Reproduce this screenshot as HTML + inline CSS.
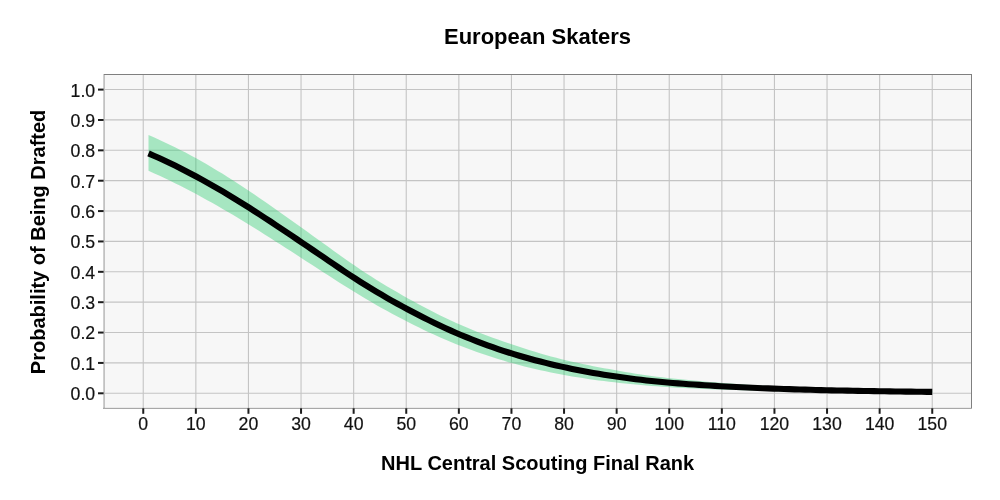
<!DOCTYPE html>
<html><head><meta charset="utf-8"><title>European Skaters</title>
<style>
html,body{margin:0;padding:0;background:#fff;}
body{width:1000px;height:500px;overflow:hidden;font-family:"Liberation Sans",sans-serif;}
svg{display:block;will-change:transform;}
svg text{font-family:"Liberation Sans",sans-serif;}
</style></head><body>
<svg width="1000" height="500" viewBox="0 0 1000 500">
<rect x="0" y="0" width="1000" height="500" fill="#ffffff"/>
<rect x="104.5" y="75" width="866.5" height="333" fill="#f7f7f7"/>
<g stroke="#c4c4c4" stroke-width="1.1" fill="none">
<line x1="104.5" x2="971" y1="393.20" y2="393.20"/>
<line x1="104.5" x2="971" y1="362.83" y2="362.83"/>
<line x1="104.5" x2="971" y1="332.46" y2="332.46"/>
<line x1="104.5" x2="971" y1="302.09" y2="302.09"/>
<line x1="104.5" x2="971" y1="271.72" y2="271.72"/>
<line x1="104.5" x2="971" y1="241.35" y2="241.35"/>
<line x1="104.5" x2="971" y1="210.98" y2="210.98"/>
<line x1="104.5" x2="971" y1="180.61" y2="180.61"/>
<line x1="104.5" x2="971" y1="150.24" y2="150.24"/>
<line x1="104.5" x2="971" y1="119.87" y2="119.87"/>
<line x1="104.5" x2="971" y1="89.50" y2="89.50"/>
<line x1="143.25" x2="143.25" y1="75" y2="408"/>
<line x1="195.85" x2="195.85" y1="75" y2="408"/>
<line x1="248.45" x2="248.45" y1="75" y2="408"/>
<line x1="301.05" x2="301.05" y1="75" y2="408"/>
<line x1="353.65" x2="353.65" y1="75" y2="408"/>
<line x1="406.25" x2="406.25" y1="75" y2="408"/>
<line x1="458.85" x2="458.85" y1="75" y2="408"/>
<line x1="511.45" x2="511.45" y1="75" y2="408"/>
<line x1="564.05" x2="564.05" y1="75" y2="408"/>
<line x1="616.65" x2="616.65" y1="75" y2="408"/>
<line x1="669.25" x2="669.25" y1="75" y2="408"/>
<line x1="721.85" x2="721.85" y1="75" y2="408"/>
<line x1="774.45" x2="774.45" y1="75" y2="408"/>
<line x1="827.05" x2="827.05" y1="75" y2="408"/>
<line x1="879.65" x2="879.65" y1="75" y2="408"/>
<line x1="932.25" x2="932.25" y1="75" y2="408"/>
</g>
<polygon points="148.51,135.08 153.81,137.35 159.10,139.70 164.40,142.13 169.69,144.63 174.99,147.22 180.28,149.88 185.58,152.62 190.87,155.44 196.17,158.33 201.47,161.30 206.76,164.34 212.06,167.45 217.35,170.63 222.65,173.87 227.94,177.17 233.24,180.54 238.53,183.96 243.83,187.43 249.13,190.96 254.42,194.52 259.72,198.13 265.01,201.78 270.31,205.46 275.60,209.17 280.90,212.90 286.19,216.66 291.49,220.43 296.79,224.22 302.08,228.02 307.38,231.82 312.67,235.64 317.97,239.46 323.26,243.28 328.56,247.10 333.85,250.90 339.15,254.69 344.44,258.44 349.74,262.15 355.04,265.80 360.33,269.39 365.63,272.89 370.92,276.32 376.22,279.67 381.51,282.94 386.81,286.15 392.10,289.29 397.40,292.37 402.70,295.40 407.99,298.39 413.29,301.32 418.58,304.20 423.88,307.03 429.17,309.81 434.47,312.52 439.76,315.16 445.06,317.74 450.36,320.25 455.65,322.68 460.95,325.03 466.24,327.31 471.54,329.52 476.83,331.65 482.13,333.71 487.42,335.72 492.72,337.67 498.02,339.57 503.31,341.44 508.61,343.27 513.90,345.07 519.20,346.83 524.49,348.55 529.79,350.23 535.08,351.86 540.38,353.43 545.68,354.95 550.97,356.40 556.27,357.80 561.56,359.14 566.86,360.43 572.15,361.66 577.45,362.85 582.74,363.99 588.04,365.09 593.34,366.14 598.63,367.16 603.93,368.14 609.22,369.12 614.52,370.08 619.81,371.01 625.11,371.92 630.40,372.80 635.70,373.65 641.00,374.48 646.29,375.27 651.59,376.00 656.88,376.68 662.18,377.32 667.47,377.95 672.77,378.52 678.06,379.07 683.36,379.59 688.66,380.09 693.95,380.58 699.25,381.04 704.54,381.49 709.84,381.93 715.13,382.35 720.43,382.76 725.72,383.18 731.02,383.58 736.31,383.98 741.61,384.37 746.91,384.75 752.20,385.12 757.50,385.41 762.79,385.68 768.09,385.94 773.38,386.18 778.68,386.42 783.97,386.66 789.27,386.88 794.57,387.10 799.86,387.31 805.16,387.51 810.45,387.71 815.75,387.90 821.04,388.08 826.34,388.26 831.63,388.43 836.93,388.60 842.23,388.76 847.52,388.92 852.82,389.07 858.11,389.21 863.41,389.36 868.70,389.50 874.00,389.63 879.29,389.76 884.59,389.89 889.89,390.01 895.18,390.13 900.48,390.25 905.77,390.37 911.07,390.48 916.36,390.59 921.66,390.69 926.95,390.79 932.25,390.90 932.25,392.90 926.95,392.89 921.66,392.88 916.36,392.87 911.07,392.86 905.77,392.84 900.48,392.82 895.18,392.80 889.89,392.77 884.59,392.74 879.29,392.71 874.00,392.67 868.70,392.63 863.41,392.59 858.11,392.54 852.82,392.49 847.52,392.43 842.23,392.37 836.93,392.30 831.63,392.23 826.34,392.15 821.04,392.07 815.75,391.98 810.45,391.89 805.16,391.78 799.86,391.68 794.57,391.56 789.27,391.44 783.97,391.31 778.68,391.17 773.38,391.03 768.09,390.87 762.79,390.71 757.50,390.54 752.20,390.38 746.91,390.28 741.61,390.17 736.31,390.05 731.02,389.92 725.72,389.78 720.43,389.62 715.13,389.43 709.84,389.23 704.54,389.02 699.25,388.79 693.95,388.54 688.66,388.28 683.36,388.00 678.06,387.70 672.77,387.38 667.47,387.04 662.18,386.70 656.88,386.33 651.59,385.94 646.29,385.52 641.00,385.06 635.70,384.58 630.40,384.07 625.11,383.53 619.81,382.96 614.52,382.36 609.22,381.75 603.93,381.10 598.63,380.40 593.34,379.68 588.04,378.91 582.74,378.11 577.45,377.27 572.15,376.39 566.86,375.47 561.56,374.50 556.27,373.49 550.97,372.44 545.68,371.33 540.38,370.18 535.08,368.97 529.79,367.71 524.49,366.40 519.20,365.03 513.90,363.61 508.61,362.13 503.31,360.59 498.02,358.99 492.72,357.33 487.42,355.61 482.13,353.82 476.83,351.97 471.54,350.05 466.24,348.07 460.95,346.03 455.65,343.92 450.36,341.74 445.06,339.49 439.76,337.18 434.47,334.81 429.17,332.38 423.88,329.88 418.58,327.32 413.29,324.71 407.99,322.05 402.70,319.33 397.40,316.55 392.10,313.73 386.81,310.85 381.51,307.91 376.22,304.92 370.92,301.87 365.63,298.75 360.33,295.58 355.04,292.35 349.74,289.07 344.44,285.75 339.15,282.39 333.85,279.01 328.56,275.60 323.26,272.18 317.97,268.76 312.67,265.32 307.38,261.89 302.08,258.45 296.79,255.02 291.49,251.60 286.19,248.18 280.90,244.77 275.60,241.38 270.31,238.01 265.01,234.65 259.72,231.32 254.42,228.01 249.13,224.74 243.83,221.49 238.53,218.28 233.24,215.11 227.94,211.98 222.65,208.89 217.35,205.84 212.06,202.83 206.76,199.88 201.47,196.97 196.17,194.11 190.87,191.31 185.58,188.55 180.28,185.85 174.99,183.21 169.69,180.62 164.40,178.08 159.10,175.60 153.81,173.17 148.51,170.81" fill="#2ecc71" fill-opacity="0.4"/>
<polyline points="148.51,153.40 153.81,155.71 159.10,158.09 164.40,160.52 169.69,163.03 174.99,165.59 180.28,168.23 185.58,170.92 190.87,173.67 196.17,176.49 201.47,179.37 206.76,182.31 212.06,185.30 217.35,188.35 222.65,191.45 227.94,194.61 233.24,197.82 238.53,201.07 243.83,204.37 249.13,207.70 254.42,211.08 259.72,214.50 265.01,217.94 270.31,221.42 275.60,224.92 280.90,228.44 286.19,231.98 291.49,235.54 296.79,239.11 302.08,242.69 307.38,246.29 312.67,249.89 317.97,253.49 323.26,257.10 328.56,260.71 333.85,264.30 339.15,267.88 344.44,271.44 349.74,274.95 355.04,278.41 360.33,281.81 365.63,285.15 370.92,288.41 376.22,291.60 381.51,294.73 386.81,297.78 392.10,300.78 397.40,303.73 402.70,306.63 407.99,309.48 413.29,312.28 418.58,315.03 423.88,317.73 429.17,320.38 434.47,322.96 439.76,325.49 445.06,327.95 450.36,330.35 455.65,332.68 460.95,334.95 466.24,337.15 471.54,339.29 476.83,341.37 482.13,343.38 487.42,345.32 492.72,347.21 498.02,349.03 503.31,350.80 508.61,352.50 513.90,354.15 519.20,355.74 524.49,357.28 529.79,358.76 535.08,360.19 540.38,361.57 545.68,362.91 550.97,364.19 556.27,365.43 561.56,366.63 566.86,367.78 572.15,368.89 577.45,369.96 582.74,370.98 588.04,371.97 593.34,372.92 598.63,373.83 603.93,374.71 609.22,375.54 614.52,376.34 619.81,377.10 625.11,377.83 630.40,378.53 635.70,379.18 641.00,379.81 646.29,380.41 651.59,380.97 656.88,381.51 662.18,382.01 667.47,382.49 672.77,382.95 678.06,383.38 683.36,383.79 688.66,384.19 693.95,384.56 699.25,384.91 704.54,385.25 709.84,385.58 715.13,385.89 720.43,386.19 725.72,386.48 731.02,386.75 736.31,387.02 741.61,387.27 746.91,387.52 752.20,387.75 757.50,387.98 762.79,388.20 768.09,388.40 773.38,388.61 778.68,388.80 783.97,388.98 789.27,389.16 794.57,389.33 799.86,389.49 805.16,389.65 810.45,389.80 815.75,389.94 821.04,390.08 826.34,390.21 831.63,390.33 836.93,390.45 842.23,390.56 847.52,390.67 852.82,390.78 858.11,390.88 863.41,390.97 868.70,391.06 874.00,391.15 879.29,391.24 884.59,391.32 889.89,391.39 895.18,391.47 900.48,391.54 905.77,391.60 911.07,391.67 916.36,391.73 921.66,391.79 926.95,391.84 932.25,391.90" fill="none" stroke="#000" stroke-width="6.1" stroke-linejoin="round"/>
<g fill="none">
<line x1="103.6" x2="971.5" y1="74.5" y2="74.5" stroke="#7f7f7f" stroke-width="1"/>
<line x1="971.5" x2="971.5" y1="74" y2="408.6" stroke="#7f7f7f" stroke-width="1"/>
<rect x="103" y="74.6" width="1" height="334.2" fill="#cfcfcf"/><rect x="104" y="75" width="1" height="333.8" fill="#c2c2c2"/>
<rect x="103" y="407" width="868" height="1" fill="#000" fill-opacity="0.05"/><rect x="103" y="408" width="868.5" height="1" fill="#a8a8a8"/>
</g>
<g stroke="#1c1c1c" stroke-width="2" fill="none">
<line x1="98" x2="103.6" y1="393.30" y2="393.30"/>
<line x1="98" x2="103.6" y1="362.93" y2="362.93"/>
<line x1="98" x2="103.6" y1="332.56" y2="332.56"/>
<line x1="98" x2="103.6" y1="302.19" y2="302.19"/>
<line x1="98" x2="103.6" y1="271.82" y2="271.82"/>
<line x1="98" x2="103.6" y1="241.45" y2="241.45"/>
<line x1="98" x2="103.6" y1="211.08" y2="211.08"/>
<line x1="98" x2="103.6" y1="180.71" y2="180.71"/>
<line x1="98" x2="103.6" y1="150.34" y2="150.34"/>
<line x1="98" x2="103.6" y1="119.97" y2="119.97"/>
<line x1="98" x2="103.6" y1="89.60" y2="89.60"/>
<line x1="143.25" x2="143.25" y1="408.3" y2="413.8"/>
<line x1="195.85" x2="195.85" y1="408.3" y2="413.8"/>
<line x1="248.45" x2="248.45" y1="408.3" y2="413.8"/>
<line x1="301.05" x2="301.05" y1="408.3" y2="413.8"/>
<line x1="353.65" x2="353.65" y1="408.3" y2="413.8"/>
<line x1="406.25" x2="406.25" y1="408.3" y2="413.8"/>
<line x1="458.85" x2="458.85" y1="408.3" y2="413.8"/>
<line x1="511.45" x2="511.45" y1="408.3" y2="413.8"/>
<line x1="564.05" x2="564.05" y1="408.3" y2="413.8"/>
<line x1="616.65" x2="616.65" y1="408.3" y2="413.8"/>
<line x1="669.25" x2="669.25" y1="408.3" y2="413.8"/>
<line x1="721.85" x2="721.85" y1="408.3" y2="413.8"/>
<line x1="774.45" x2="774.45" y1="408.3" y2="413.8"/>
<line x1="827.05" x2="827.05" y1="408.3" y2="413.8"/>
<line x1="879.65" x2="879.65" y1="408.3" y2="413.8"/>
<line x1="932.25" x2="932.25" y1="408.3" y2="413.8"/>
</g>
<g font-size="17.7" fill="#111" stroke="#111" stroke-width="0.2">
<text x="95.2" y="400.20" text-anchor="end">0.0</text>
<text x="95.2" y="369.83" text-anchor="end">0.1</text>
<text x="95.2" y="339.46" text-anchor="end">0.2</text>
<text x="95.2" y="309.09" text-anchor="end">0.3</text>
<text x="95.2" y="278.72" text-anchor="end">0.4</text>
<text x="95.2" y="248.35" text-anchor="end">0.5</text>
<text x="95.2" y="217.98" text-anchor="end">0.6</text>
<text x="95.2" y="187.61" text-anchor="end">0.7</text>
<text x="95.2" y="157.24" text-anchor="end">0.8</text>
<text x="95.2" y="126.87" text-anchor="end">0.9</text>
<text x="95.2" y="96.50" text-anchor="end">1.0</text>
<text x="143.25" y="429.9" text-anchor="middle">0</text>
<text x="195.85" y="429.9" text-anchor="middle">10</text>
<text x="248.45" y="429.9" text-anchor="middle">20</text>
<text x="301.05" y="429.9" text-anchor="middle">30</text>
<text x="353.65" y="429.9" text-anchor="middle">40</text>
<text x="406.25" y="429.9" text-anchor="middle">50</text>
<text x="458.85" y="429.9" text-anchor="middle">60</text>
<text x="511.45" y="429.9" text-anchor="middle">70</text>
<text x="564.05" y="429.9" text-anchor="middle">80</text>
<text x="616.65" y="429.9" text-anchor="middle">90</text>
<text x="669.25" y="429.9" text-anchor="middle">100</text>
<text x="721.85" y="429.9" text-anchor="middle">110</text>
<text x="774.45" y="429.9" text-anchor="middle">120</text>
<text x="827.05" y="429.9" text-anchor="middle">130</text>
<text x="879.65" y="429.9" text-anchor="middle">140</text>
<text x="932.25" y="429.9" text-anchor="middle">150</text>
</g>
<text x="537.5" y="44.0" text-anchor="middle" font-size="22" font-weight="bold" fill="#000">European Skaters</text>
<text x="537.6" y="469.5" text-anchor="middle" font-size="20" font-weight="bold" fill="#000">NHL Central Scouting Final Rank</text>
<text transform="translate(44.55,241.9) rotate(-90)" text-anchor="middle" font-size="20" font-weight="bold" fill="#000">Probability of Being Drafted</text>
</svg>
</body></html>
